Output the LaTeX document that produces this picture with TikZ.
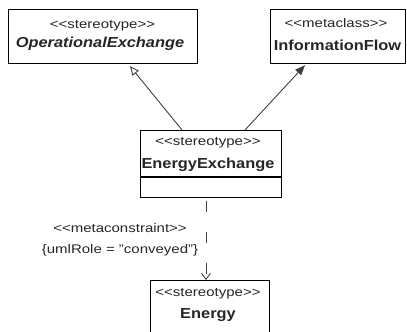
\documentclass[tikz,border=0pt]{standalone}
\usepackage{fontspec}
\setmainfont[Ligatures=NoCommon]{Liberation Sans}
\usetikzlibrary{arrows.meta,calc}
\newcommand{\stxt}[1]{\scalebox{1.2}[1]{\fontsize{12.5}{14}\selectfont #1}}
\newcommand{\ntxt}[1]{\scalebox{1.13}[1]{\fontsize{14.5}{16}\selectfont\bfseries #1}}
\newcommand{\nitxt}[1]{\scalebox{1.13}[1]{\fontsize{14.5}{16}\selectfont\bfseries\itshape #1}}
\newcommand{\oo}{{<}{<}}
\newcommand{\cc}{{>}{>}}
\tikzset{
  umlbox/.style={draw=black, line width=1.2pt, fill=white, inner sep=0pt, anchor=north west},
  lbl/.style={inner sep=0pt, text=black!85},
  conn/.style={draw=black!75, line width=0.9pt},
}
\begin{document}
\begin{tikzpicture}[x=1pt,y=-1pt]
\useasboundingbox (0,0) rectangle (407,332);
\begin{scope}
\clip (0,0) rectangle (407,332);
% boxes
\node[umlbox, minimum width=189pt, minimum height=54pt] (oe) at (8,9) {};
\node[umlbox, minimum width=135pt, minimum height=54pt] (inf) at (270,9) {};
\node[umlbox, minimum width=141pt, minimum height=67pt] (ee) at (140,130) {};
\node[umlbox, minimum width=119pt, minimum height=70pt] (en) at (150,280) {};
\draw[line width=1.2pt] (140,177) -- (281,177);
% texts
\node[lbl] (oes) at (102.5,26) {\stxt{\oo stereotype\cc}};
\node[lbl] (oen) at (100,44) {\nitxt{OperationalExchange}};
\node[lbl] (infs) at (336,23) {\stxt{\oo metaclass\cc}};
\node[lbl] (infn) at (337.5,45) {\ntxt{InformationFlow}};
\node[lbl] (ees) at (208,143) {\stxt{\oo stereotype\cc}};
\node[lbl] (een) at (208,165) {\ntxt{EnergyExchange}};
\node[lbl] (ens) at (208,294) {\stxt{\oo stereotype\cc}};
\node[lbl] (enn) at (208,315) {\ntxt{Energy}};
\node[lbl] (mc) at (120,228) {\stxt{\oo metaconstraint\cc}};
\node[lbl] (role) at (120,250) {\stxt{\{umlRole = "conveyed"\}}};
% connectors
\coordinate (g1) at ($(ee.north west)+(42,0)$);
\coordinate (g2) at ($(oe.south west)+(122,2)$);
\coordinate (f1) at ($(ee.north west)+(105,0)$);
\coordinate (f2) at ($(inf.south west)+(35,1)$);
\coordinate (d1) at (206,201);
\coordinate (d2) at ($(en.north west)+(56,0)$);
\draw[conn, -{Triangle[open, length=9pt, width=8pt, line width=0.9pt]}] (g1) -- (g2);
\draw[conn, -{Triangle[length=10pt, width=8pt]}] (f1) -- (f2);
\draw[conn, dash pattern=on 11pt off 20pt, -{Straight Barb[length=6pt, width=9pt, line width=0.9pt]}] (d1) -- (d2);
\end{scope}
\end{tikzpicture}
\end{document}
